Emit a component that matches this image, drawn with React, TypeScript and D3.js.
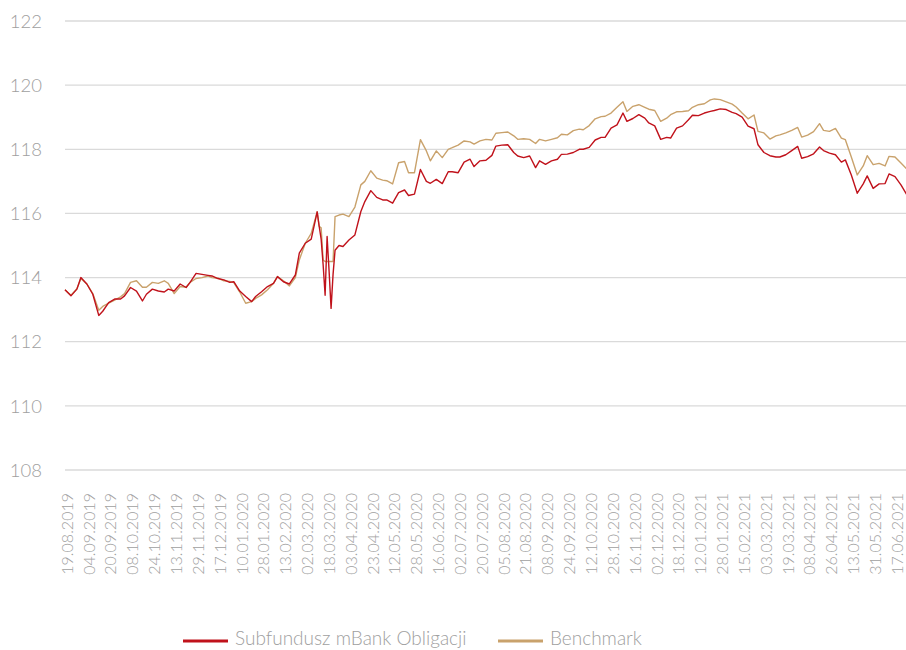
import React, { useEffect, useRef } from 'react';
import * as d3 from 'd3';

// x axis labels, one every 11 trading days
const dateLabels = [
  '19.08.2019', '04.09.2019', '20.09.2019', '08.10.2019', '24.10.2019', '13.11.2019', '29.11.2019', '17.12.2019',
  '10.01.2020', '28.01.2020', '13.02.2020', '02.03.2020', '18.03.2020', '03.04.2020', '23.04.2020', '12.05.2020',
  '28.05.2020', '16.06.2020', '02.07.2020', '20.07.2020', '05.08.2020', '21.08.2020', '08.09.2020', '24.09.2020',
  '12.10.2020', '28.10.2020', '16.11.2020', '02.12.2020', '18.12.2020', '12.01.2021', '28.01.2021', '15.02.2021',
  '03.03.2021', '19.03.2021', '08.04.2021', '26.04.2021', '13.05.2021', '31.05.2021', '17.06.2021',
];
const daysPerLabel = 11;

// trading day index of each sample
const days = [
  0, 3, 6, 8, 11, 14, 17, 19, 22, 25, 28, 30, 33, 36, 39, 41, 44, 47, 50, 52,
  55, 58, 61, 63, 66, 69, 72, 74, 77, 80, 83, 85, 88, 91, 94, 96, 99, 102, 105, 107,
  110, 113, 116, 118, 121, 124,
  127, 128, 129, 130, 131, 132, 133, 134, 135, 136, 138,
  140, 143, 146, 149, 151, 154, 157, 160, 162, 165, 168, 171, 173, 176, 179, 182, 184, 187, 190, 193,
  195, 198, 201, 204, 206, 209, 212, 215, 217, 220, 223, 226, 228, 231, 234, 237, 239, 242, 245, 248,
  250, 253, 256, 259, 261, 264, 267, 270, 272, 275, 278, 281, 283, 286, 289, 292, 294, 297, 300, 303,
  305, 308, 311, 314, 316, 319, 322, 325, 327, 330, 333, 336, 338, 341, 344, 347, 349, 352, 355, 358,
  360, 363, 366, 369, 371, 374, 377, 380, 382, 385, 388, 391, 393, 396, 399, 402, 404, 407, 410, 413,
  415, 418, 421, 424,
];

const fund = [
  113.62, 113.43, 113.64, 114.0, 113.8, 113.48, 112.82, 112.95, 113.22, 113.33, 113.33, 113.43, 113.69, 113.58, 113.27, 113.48, 113.64, 113.58, 113.55, 113.64,
  113.58, 113.8, 113.69, 113.85, 114.13, 114.1, 114.07, 114.05, 113.97, 113.93, 113.85, 113.87, 113.58, 113.41, 113.25, 113.41, 113.56, 113.72, 113.82, 114.03,
  113.87, 113.8, 114.08, 114.76, 115.07, 115.2,
  116.05, 115.6, 115.2, 114.4, 113.45, 115.28, 114.2, 113.04, 114.1, 114.85, 115.0,
  114.97, 115.17, 115.33, 116.06, 116.37, 116.71, 116.5, 116.42, 116.42, 116.32, 116.65, 116.73, 116.56, 116.6, 117.37, 117.0, 116.94, 117.06, 116.93, 117.3,
  117.3, 117.27, 117.6, 117.69, 117.46, 117.64, 117.66, 117.81, 118.1, 118.13, 118.14, 117.9, 117.79, 117.74, 117.79, 117.43, 117.64, 117.53, 117.64, 117.69,
  117.84, 117.85, 117.9, 118.0, 118.0, 118.06, 118.29, 118.37, 118.37, 118.66, 118.76, 119.13, 118.87, 118.96, 119.08, 118.97, 118.82, 118.73, 118.31, 118.37,
  118.35, 118.66, 118.73, 118.92, 119.06, 119.05, 119.13, 119.18, 119.21, 119.26, 119.24, 119.15, 119.11, 119.0, 118.72, 118.64, 118.14, 117.9, 117.8, 117.76,
  117.76, 117.83, 117.96, 118.09, 117.72, 117.77, 117.86, 118.07, 117.96, 117.88, 117.83, 117.6, 117.67, 117.2, 116.63, 116.92, 117.17, 116.78, 116.92, 116.93,
  117.23, 117.15, 116.89, 116.58,
];

const benchmark = [
  113.62, 113.45, 113.65, 113.97, 113.8, 113.5, 112.98, 113.1, 113.2, 113.3, 113.4, 113.5, 113.85, 113.9, 113.7, 113.7, 113.85, 113.82, 113.9, 113.82,
  113.5, 113.72, 113.7, 113.85, 113.97, 114.0, 114.05, 114.0, 113.98, 113.9, 113.88, 113.84, 113.55, 113.2, 113.25, 113.35, 113.46, 113.62, 113.82, 114.03,
  113.9, 113.74, 114.0, 114.55, 115.07, 115.38,
  116.05, 115.6, 115.55, 114.55, 114.5, 114.5, 114.5, 114.5, 114.5, 115.9, 115.95,
  115.98, 115.9, 116.2, 116.89, 117.0, 117.33, 117.1, 117.04, 117.02, 116.92, 117.58, 117.62, 117.27, 117.27, 118.3, 117.95, 117.64, 117.95, 117.74, 118.0,
  118.05, 118.13, 118.26, 118.23, 118.16, 118.26, 118.31, 118.29, 118.5, 118.52, 118.54, 118.42, 118.31, 118.33, 118.31, 118.18, 118.31, 118.26, 118.31, 118.36,
  118.47, 118.45, 118.58, 118.63, 118.61, 118.74, 118.95, 119.02, 119.03, 119.13, 119.31, 119.48, 119.18, 119.34, 119.39, 119.31, 119.25, 119.21, 118.87, 118.97,
  119.08, 119.17, 119.18, 119.2, 119.31, 119.39, 119.42, 119.54, 119.57, 119.55, 119.48, 119.41, 119.32, 119.13, 118.95, 119.07, 118.56, 118.51, 118.32, 118.42,
  118.45, 118.51, 118.59, 118.68, 118.38, 118.44, 118.55, 118.8, 118.59, 118.56, 118.65, 118.35, 118.3, 117.76, 117.2, 117.48, 117.8, 117.52, 117.56, 117.48,
  117.78, 117.76, 117.57, 117.38,
];

const yTicks = [108, 110, 112, 114, 116, 118, 120, 122];

const seriesNames = ['Subfundusz mBank Obligacji', 'Benchmark'];
const seriesColors = ['#c0121b', '#c9a26c'];

const FONT = 'Lato, "Open Sans", sans-serif';
const TEXT_GREY = '#a0a0a0';

const App = () => {
  const ref = useRef<SVGSVGElement>(null);

  useEffect(() => {
    const svg = d3.select(ref.current);
    svg.selectAll('*').remove();

    const width = 906;
    const height = 650;

    const x = d3.scaleLinear().domain([0, (dateLabels.length - 1) * daysPerLabel]).range([65, 895]);
    const y = d3.scaleLinear().domain([108, 122]).range([470, 21]);

    // gridlines + y labels
    const grid = svg.append('g');
    grid.selectAll('line')
      .data(yTicks)
      .join('line')
      .attr('x1', 65)
      .attr('x2', width)
      .attr('y1', (d) => y(d))
      .attr('y2', (d) => y(d))
      .attr('stroke', '#dadada')
      .attr('stroke-width', 1.3);

    grid.selectAll('text')
      .data(yTicks)
      .join('text')
      .attr('x', 42)
      .attr('y', (d) => y(d))
      .attr('dy', '0.36em')
      .attr('text-anchor', 'end')
      .style('font-family', FONT)
      .style('font-weight', 300)
      .style('font-size', '18.5px')
      .style('fill', TEXT_GREY)
      .text((d) => d);

    // x labels, rotated
    svg.append('g')
      .selectAll('text')
      .data(dateLabels)
      .join('text')
      .attr('transform', (d, i) => `translate(${x(i * daysPerLabel) + 2},493) rotate(-90)`)
      .attr('dy', '0.36em')
      .attr('text-anchor', 'end')
      .style('font-family', FONT)
      .style('font-weight', 300)
      .style('font-size', '16px')
      .style('fill', TEXT_GREY)
      .text((d) => d);

    // lines (benchmark under fund)
    const line = d3.line<number>()
      .x((d, i) => x(days[i]))
      .y((d) => y(d));

    [benchmark, fund].forEach((values, si) => {
      svg.append('path')
        .datum(values)
        .attr('d', line)
        .attr('fill', 'none')
        .attr('stroke', si === 0 ? seriesColors[1] : seriesColors[0])
        .attr('stroke-width', 1.4)
        .attr('stroke-linejoin', 'round');
    });

    // legend
    const legendX = [183, 498];
    const legend = svg.append('g');
    seriesNames.forEach((name, i) => {
      legend.append('line')
        .attr('x1', legendX[i])
        .attr('x2', legendX[i] + 45)
        .attr('y1', 641)
        .attr('y2', 641)
        .attr('stroke', seriesColors[i])
        .attr('stroke-width', 3);
      legend.append('text')
        .attr('x', legendX[i] + 52)
        .attr('y', 638)
        .attr('dy', '0.36em')
        .style('font-family', FONT)
        .style('font-weight', 300)
        .style('font-size', '19px')
        .style('fill', TEXT_GREY)
        .text(name);
    });

    svg.attr('width', width).attr('height', height);
  }, []);

  return (
    <div style={{ position: 'absolute', left: 0, top: 0 }}>
      <svg ref={ref} width={906} height={650} style={{ display: 'block' }}></svg>
    </div>
  );
};

export default App;
